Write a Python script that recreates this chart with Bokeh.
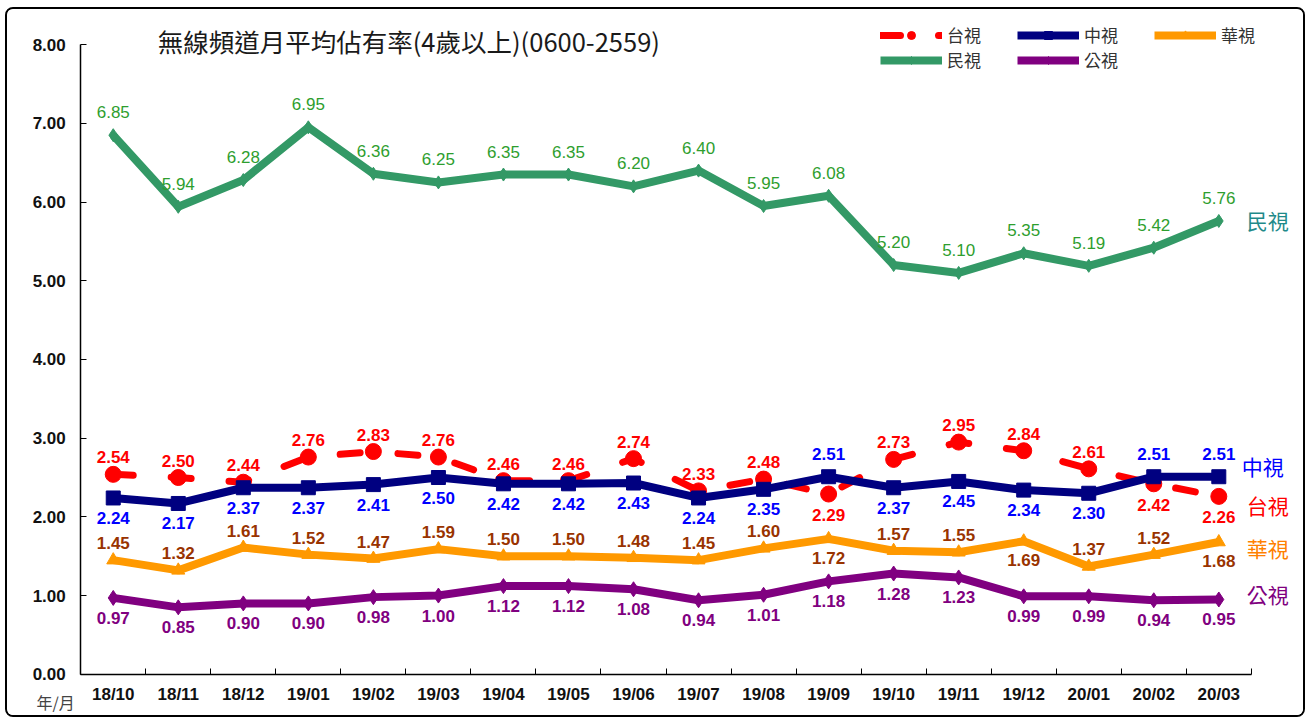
from bokeh.plotting import figure
from bokeh.models import (ColumnDataSource, FixedTicker, PrintfTickFormatter, Label,
                          Legend, LegendItem, Range1d)
from bokeh.core.properties import value
from bokeh.embed import file_html
from bokeh.resources import INLINE

# ---------------- data ----------------
months = ["18/10", "18/11", "18/12", "19/01", "19/02", "19/03", "19/04", "19/05", "19/06",
          "19/07", "19/08", "19/09", "19/10", "19/11", "19/12", "20/01", "20/02", "20/03"]
ttv = [2.54, 2.50, 2.44, 2.76, 2.83, 2.76, 2.46, 2.46, 2.74, 2.33, 2.48, 2.29, 2.73, 2.95, 2.84, 2.61, 2.42, 2.26]  # 台視
ctv = [2.24, 2.17, 2.37, 2.37, 2.41, 2.50, 2.42, 2.42, 2.43, 2.24, 2.35, 2.51, 2.37, 2.45, 2.34, 2.30, 2.51, 2.51]  # 中視
cts = [1.45, 1.32, 1.61, 1.52, 1.47, 1.59, 1.50, 1.50, 1.48, 1.45, 1.60, 1.72, 1.57, 1.55, 1.69, 1.37, 1.52, 1.68]  # 華視
ftv = [6.85, 5.94, 6.28, 6.95, 6.36, 6.25, 6.35, 6.35, 6.20, 6.40, 5.95, 6.08, 5.20, 5.10, 5.35, 5.19, 5.42, 5.76]  # 民視
pts = [0.97, 0.85, 0.90, 0.90, 0.98, 1.00, 1.12, 1.12, 1.08, 0.94, 1.01, 1.18, 1.28, 1.23, 0.99, 0.99, 0.94, 0.95]  # 公視
y_ticks = [0, 1, 2, 3, 4, 5, 6, 7, 8]
names = ["台視", "中視", "華視", "民視", "公視"]
title_text = "無線頻道月平均佔有率(4歲以上)(0600-2559)"
x_unit_text = "年/月"

# label sides for 華視 (style list: True = label above the point)
cts_label_above = [True, True, True, True, True, True, True, True, True, True, True,
                   False, True, True, False, True, True, False]

# ---------------- styles / layout (pixels) ----------------
FONT = "Liberation Sans"
CJK = "Noto Sans CJK TC"
C_TTV, C_CTV, C_CTS, C_FTV, C_PTS = "#FF0000", "#000080", "#FF9900", "#339966", "#800080"
L_TTV, L_CTV, L_CTS, L_FTV, L_PTS = "#FF0000", "#0000FF", "#993300", "#2E9E2E", "#800080"
R_TTV, R_CTV, R_CTS, R_FTV, R_PTS = "#FF0000", "#0000FF", "#FF8000", "#1F8A8A", "#800080"

CANVAS_X0, CANVAS_Y0 = 7, 11         # page position of the canvas (calibrated)
W, H = 1296, 706                     # canvas size
AX_L, AX_R, AX_T, AX_B = 80, 1247, 46, 672   # page pixels of the axes box

n = len(months)
xs = list(range(n))
x_lo, x_hi = -0.5, n - 0.5
y_lo, y_hi = y_ticks[0], y_ticks[-1]
kx = (AX_R - AX_L) / (x_hi - x_lo)
ky = (AX_B - AX_T) / (y_hi - y_lo)
x_range = Range1d(x_lo - (AX_L - CANVAS_X0) / kx, x_hi + (CANVAS_X0 + W - AX_R) / kx)
y_range = Range1d(y_lo - (CANVAS_Y0 + H - AX_B) / ky, y_hi + (AX_T - CANVAS_Y0) / ky)

p = figure(width=W, height=H, output_backend="svg", toolbar_location=None,
           x_range=x_range, y_range=y_range, min_border=0,
           min_border_left=0, min_border_right=0, min_border_top=0, min_border_bottom=0)
p.styles = {"border": "2px solid #000000", "border-radius": "8px", "box-sizing": "content-box",
            "margin-left": "5px", "margin-top": "7px", "overflow": "hidden"}
p.xgrid.visible = False
p.ygrid.visible = False
p.outline_line_color = None
p.background_fill_color = "white"
p.border_fill_color = "white"

# axes (drawn at the data box edges)
p.yaxis.fixed_location = x_lo
p.yaxis.bounds = (y_lo, y_hi)
p.yaxis.ticker = FixedTicker(ticks=y_ticks)
p.yaxis.formatter = PrintfTickFormatter(format="%.2f")
p.yaxis.major_tick_in = 6
p.yaxis.major_tick_out = 0
p.yaxis.minor_tick_line_color = None
p.yaxis.axis_line_width = 1.5
p.yaxis.major_label_standoff = 15
p.yaxis.major_label_text_font = FONT
p.yaxis.major_label_text_font_style = "bold"
p.yaxis.major_label_text_font_size = "17px"
p.yaxis.major_label_text_color = "#111111"

p.xaxis.fixed_location = y_lo
p.xaxis.bounds = (x_lo, x_hi)
p.xaxis.ticker = FixedTicker(ticks=xs, minor_ticks=[i - 0.5 for i in range(n + 1)])
p.xaxis.major_label_overrides = {i: m for i, m in enumerate(months)}
p.xaxis.major_tick_in = 0
p.xaxis.major_tick_out = 0
p.xaxis.minor_tick_in = 6
p.xaxis.minor_tick_out = 0
p.xaxis.minor_tick_line_color = "black"
p.xaxis.axis_line_width = 1.5
p.xaxis.major_label_standoff = 11
p.xaxis.major_label_text_font = FONT
p.xaxis.major_label_text_font_style = "bold"
p.xaxis.major_label_text_font_size = "17px"
p.xaxis.major_label_text_color = "#111111"

src = ColumnDataSource(dict(x=xs, ttv=ttv, ctv=ctv, cts=cts, ftv=ftv, pts=pts))

# lines (台視 under 中視)
r_ttv_l = p.line("x", "ttv", source=src, line_color=C_TTV, line_width=7, line_dash="20 38", line_cap="round")
r_ttv_m = p.scatter("x", "ttv", source=src, marker="circle", size=16, color=C_TTV)
r_ctv_l = p.line("x", "ctv", source=src, line_color=C_CTV, line_width=8, line_join="round")
r_ctv_m = p.scatter("x", "ctv", source=src, marker="square", size=14, color=C_CTV)
r_cts_l = p.line("x", "cts", source=src, line_color=C_CTS, line_width=8, line_join="round")
r_cts_m = p.scatter("x", "cts", source=src, marker="triangle", size=13, color=C_CTS)
r_ftv_l = p.line("x", "ftv", source=src, line_color=C_FTV, line_width=8, line_join="round")
r_ftv_m = p.scatter("x", "ftv", source=src, marker="diamond", size=13, color=C_FTV)
r_pts_l = p.line("x", "pts", source=src, line_color=C_PTS, line_width=8, line_join="round")
r_pts_m = p.scatter("x", "pts", source=src, marker="diamond", size=15, color=C_PTS)


def add_labels(vals, above_flags, up, down, color, bold=True, size="17px"):
    s = ColumnDataSource(dict(x=xs, y=vals, t=["%.2f" % v for v in vals],
                              dy=[up if a else down for a in above_flags]))
    p.text("x", "y", text="t", source=s, y_offset="dy", text_align="center",
           text_baseline="middle", text_color=color, text_font=value(FONT),
           text_font_style="bold" if bold else "normal", text_font_size=size)


ttv_above = [a >= b for a, b in zip(ttv, ctv)]
add_labels(ftv, [True] * n, -23, 20, L_FTV, bold=False, size="17px")
add_labels(ttv, ttv_above, -17, 21, L_TTV)
add_labels(ctv, [not a for a in ttv_above], -23, 20, L_CTV)
add_labels(cts, cts_label_above, -17, 19, L_CTS)
add_labels(pts, [False] * n, -20, 20, L_PTS)

# legend (position in canvas pixels from bottom-left)
LEG_LEFT, LEG_BOTTOM = 880, 70
legend = Legend(items=[
    LegendItem(label=names[0], renderers=[r_ttv_l, r_ttv_m]),
    LegendItem(label=names[1], renderers=[r_ctv_l, r_ctv_m]),
    LegendItem(label=names[2], renderers=[r_cts_l, r_cts_m]),
    LegendItem(label=names[3], renderers=[r_ftv_l, r_ftv_m]),
    LegendItem(label=names[4], renderers=[r_pts_l, r_pts_m]),
], location=(LEG_LEFT - CANVAS_X0, CANVAS_Y0 + H - LEG_BOTTOM), orientation="horizontal", ncols=3)
legend.glyph_width = 62
legend.glyph_height = 20
legend.label_standoff = 5
legend.label_width = 70
legend.label_height = 20
legend.spacing = 0
legend.padding = 0
legend.margin = 0
legend.border_line_color = None
legend.background_fill_alpha = 0
legend.label_text_font = CJK
legend.label_text_font_size = "17px"
legend.label_text_color = "#333333"
p.add_layout(legend, "center")

# title
p.add_layout(Label(x=x_lo, y=y_hi, x_offset=77, y_offset=4, text=title_text,
                   text_font=CJK, text_font_size="25.5px", text_color="#1A1A1A",
                   text_align="left", text_baseline="middle"))
# unit label
p.add_layout(Label(x=x_lo, y=y_lo, x_offset=-25, y_offset=-28, text=x_unit_text,
                   text_font=CJK, text_font_size="16px", text_color="#444444",
                   text_align="center", text_baseline="middle"))

# right-hand series names
last = n - 1
for name, vals, col, dx, dy in [(names[3], ftv, R_FTV, 28, 1), (names[1], ctv, R_CTV, 23, 11),
                                (names[0], ttv, R_TTV, 28, -9), (names[2], cts, R_CTS, 28, -6),
                                (names[4], pts, R_PTS, 28, 5)]:
    p.add_layout(Label(x=last, y=vals[last], x_offset=dx, y_offset=dy, text=name,
                       text_font=CJK, text_font_size="21px", text_color=col,
                       text_align="left", text_baseline="middle"))

open("out.html", "w").write(file_html(p, INLINE))
